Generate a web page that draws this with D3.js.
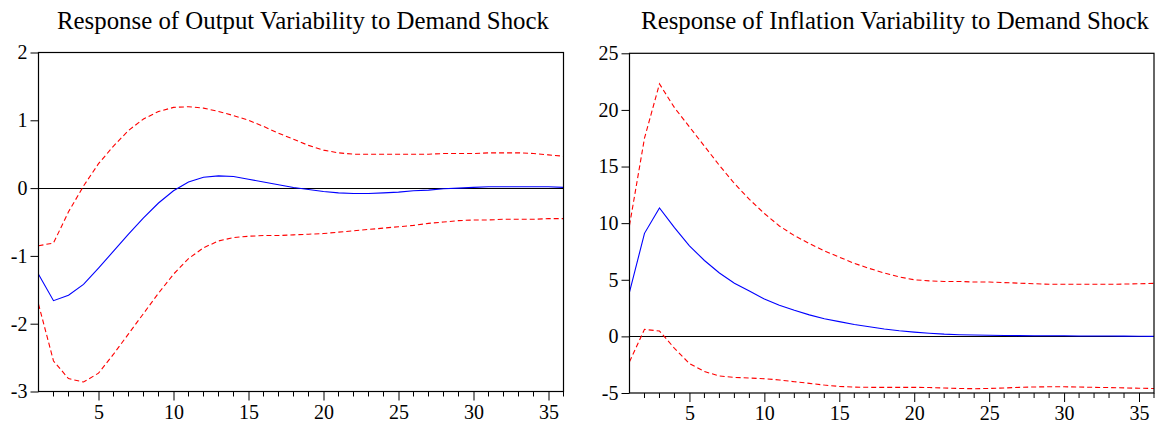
<!DOCTYPE html>
<html>
<head>
<meta charset="utf-8">
<script src="https://cdn.jsdelivr.net/npm/d3@7"></script>
<style>
  body { margin: 0; background: #fff; }
  svg { display: block; }
  text { fill: #000; }
</style>
</head>
<body>
<svg id="chart" width="1159" height="430"></svg>
<script>
// horizon 1..36
var horizon = d3.range(1, 37)

var outputMid = [-1.27, -1.66, -1.58, -1.42, -1.18, -0.93, -0.68, -0.44, -0.22, -0.04,
  0.09, 0.16, 0.18, 0.17, 0.13, 0.09, 0.05, 0.01, -0.02, -0.05,
  -0.07, -0.08, -0.08, -0.07, -0.06, -0.04, -0.03, -0.01, 0.0, 0.01,
  0.02, 0.02, 0.02, 0.02, 0.02, 0.01]
var outputUpper = [-0.85, -0.81, -0.35, 0.03, 0.36, 0.62, 0.85, 1.02, 1.13, 1.19,
  1.2, 1.18, 1.13, 1.07, 1.0, 0.91, 0.81, 0.72, 0.63, 0.56,
  0.52, 0.5, 0.5, 0.5, 0.5, 0.5, 0.5, 0.51, 0.51, 0.51,
  0.52, 0.52, 0.52, 0.51, 0.49, 0.47]
var outputLower = [-1.71, -2.55, -2.81, -2.86, -2.73, -2.45, -2.15, -1.85, -1.55, -1.27,
  -1.04, -0.88, -0.78, -0.73, -0.71, -0.70, -0.70, -0.69, -0.68, -0.67,
  -0.65, -0.63, -0.61, -0.59, -0.57, -0.55, -0.52, -0.5, -0.48, -0.47,
  -0.47, -0.46, -0.46, -0.46, -0.45, -0.45]

var inflationMid = [3.9, 9.1, 11.35, 9.6, 8.0, 6.7, 5.6, 4.7, 4.0, 3.3,
  2.75, 2.3, 1.9, 1.55, 1.3, 1.05, 0.85, 0.65, 0.5, 0.38,
  0.28, 0.2, 0.15, 0.12, 0.1, 0.08, 0.07, 0.06, 0.05, 0.05,
  0.04, 0.03, 0.03, 0.02, 0.01, 0.0]
var inflationUpper = [9.8, 17.5, 22.3, 20.2, 18.5, 16.8, 15.1, 13.5, 12.1, 10.85,
  9.75, 8.9, 8.2, 7.55, 7.0, 6.45, 6.0, 5.6, 5.25, 5.0,
  4.9, 4.85, 4.85, 4.8, 4.8, 4.75, 4.7, 4.65, 4.6, 4.6,
  4.6, 4.6, 4.6, 4.62, 4.65, 4.68]
var inflationLower = [-2.25, 0.62, 0.47, -1.05, -2.4, -3.1, -3.5, -3.62, -3.68, -3.74,
  -3.85, -4.0, -4.15, -4.3, -4.42, -4.48, -4.5, -4.5, -4.5, -4.5,
  -4.52, -4.56, -4.6, -4.62, -4.6, -4.56, -4.5, -4.47, -4.45, -4.45,
  -4.47, -4.5, -4.52, -4.55, -4.58, -4.6]

var xTicks = [5, 10, 15, 20, 25, 30, 35]
var outputTicks = [-3, -2, -1, 0, 1, 2]
var inflationTicks = [-5, 0, 5, 10, 15, 20, 25]

var svg = d3.select('#chart')
var serif = 'Liberation Serif'

function drawPanel(p) {
  var x = d3.scaleLinear().domain([1, 36]).range([p.left, p.right])
  var y = d3.scaleLinear().domain(p.yDomain).range([p.bottom, p.top])
  var g = svg.append('g')

  // title, sized to span the same width as the original
  var t = g.append('text')
    .attr('x', (p.titleX0 + p.titleX1) / 2)
    .attr('y', 29)
    .attr('text-anchor', 'middle')
    .attr('font-family', serif)
    .attr('font-size', 22)
    .text(p.title)
  var w = t.node().getComputedTextLength()
  t.attr('font-size', 22 * (p.titleX1 - p.titleX0) / w)

  // zero line
  g.append('line')
    .attr('x1', p.left).attr('x2', p.right)
    .attr('y1', Math.round(y(0)) + 0.5).attr('y2', Math.round(y(0)) + 0.5)
    .attr('stroke', '#000').attr('stroke-width', 1)

  var line = d3.line()
    .x(function(d, i) { return x(horizon[i]) })
    .y(function(d) { return y(d) })

  g.append('path').attr('d', line(p.upper))
    .attr('fill', 'none').attr('stroke', '#ff0000').attr('stroke-width', 1.1)
    .attr('stroke-dasharray', '5,3')
  g.append('path').attr('d', line(p.lower))
    .attr('fill', 'none').attr('stroke', '#ff0000').attr('stroke-width', 1.1)
    .attr('stroke-dasharray', '5,3')
  g.append('path').attr('d', line(p.mid))
    .attr('fill', 'none').attr('stroke', '#0000ff').attr('stroke-width', 1.1)

  // frame
  g.append('rect')
    .attr('x', p.left).attr('y', p.top)
    .attr('width', p.right - p.left).attr('height', p.bottom - p.top)
    .attr('fill', 'none').attr('stroke', '#000').attr('stroke-width', 1.2)

  // y axis
  var yAxis = d3.axisLeft(y).tickValues(p.yTicks).tickSize(8).tickPadding(3)
    .tickFormat(function(d) { return String(d) })
  var ya = g.append('g').attr('transform', 'translate(' + p.left + ',0)').call(yAxis)
  ya.attr('font-family', serif).attr('font-size', 20)
  ya.select('.domain').remove()

  // x axis: minor ticks every step, labels on multiples of 5
  var xa = g.append('g').attr('transform', 'translate(0,' + p.bottom + ')')
  xa.selectAll('.minor')
    .data(horizon.filter(function(d) { return d > 1 && d % 5 !== 0 }))
    .enter().append('line')
    .attr('x1', function(d) { return x(d) }).attr('x2', function(d) { return x(d) })
    .attr('y1', 0).attr('y2', 5)
    .attr('stroke', '#000')
  var xAxis = d3.axisBottom(x).tickValues(xTicks).tickSize(9).tickPadding(4)
    .tickFormat(function(d) { return String(d) })
  var xg = xa.append('g').call(xAxis)
  xg.attr('font-family', serif).attr('font-size', 20)
  xg.select('.domain').remove()
}

drawPanel({
  title: 'Response of Output Variability to Demand Shock',
  titleX0: 57, titleX1: 549,
  left: 38.5, right: 563.5, top: 52.5, bottom: 391.5,
  yDomain: [-3, 2], yTicks: outputTicks,
  mid: outputMid, upper: outputUpper, lower: outputLower
})

drawPanel({
  title: 'Response of Inflation Variability to Demand Shock',
  titleX0: 641, titleX1: 1149,
  left: 629.5, right: 1154, top: 53.3, bottom: 393,
  yDomain: [-5, 25], yTicks: inflationTicks,
  mid: inflationMid, upper: inflationUpper, lower: inflationLower
})
</script>
</body>
</html>
